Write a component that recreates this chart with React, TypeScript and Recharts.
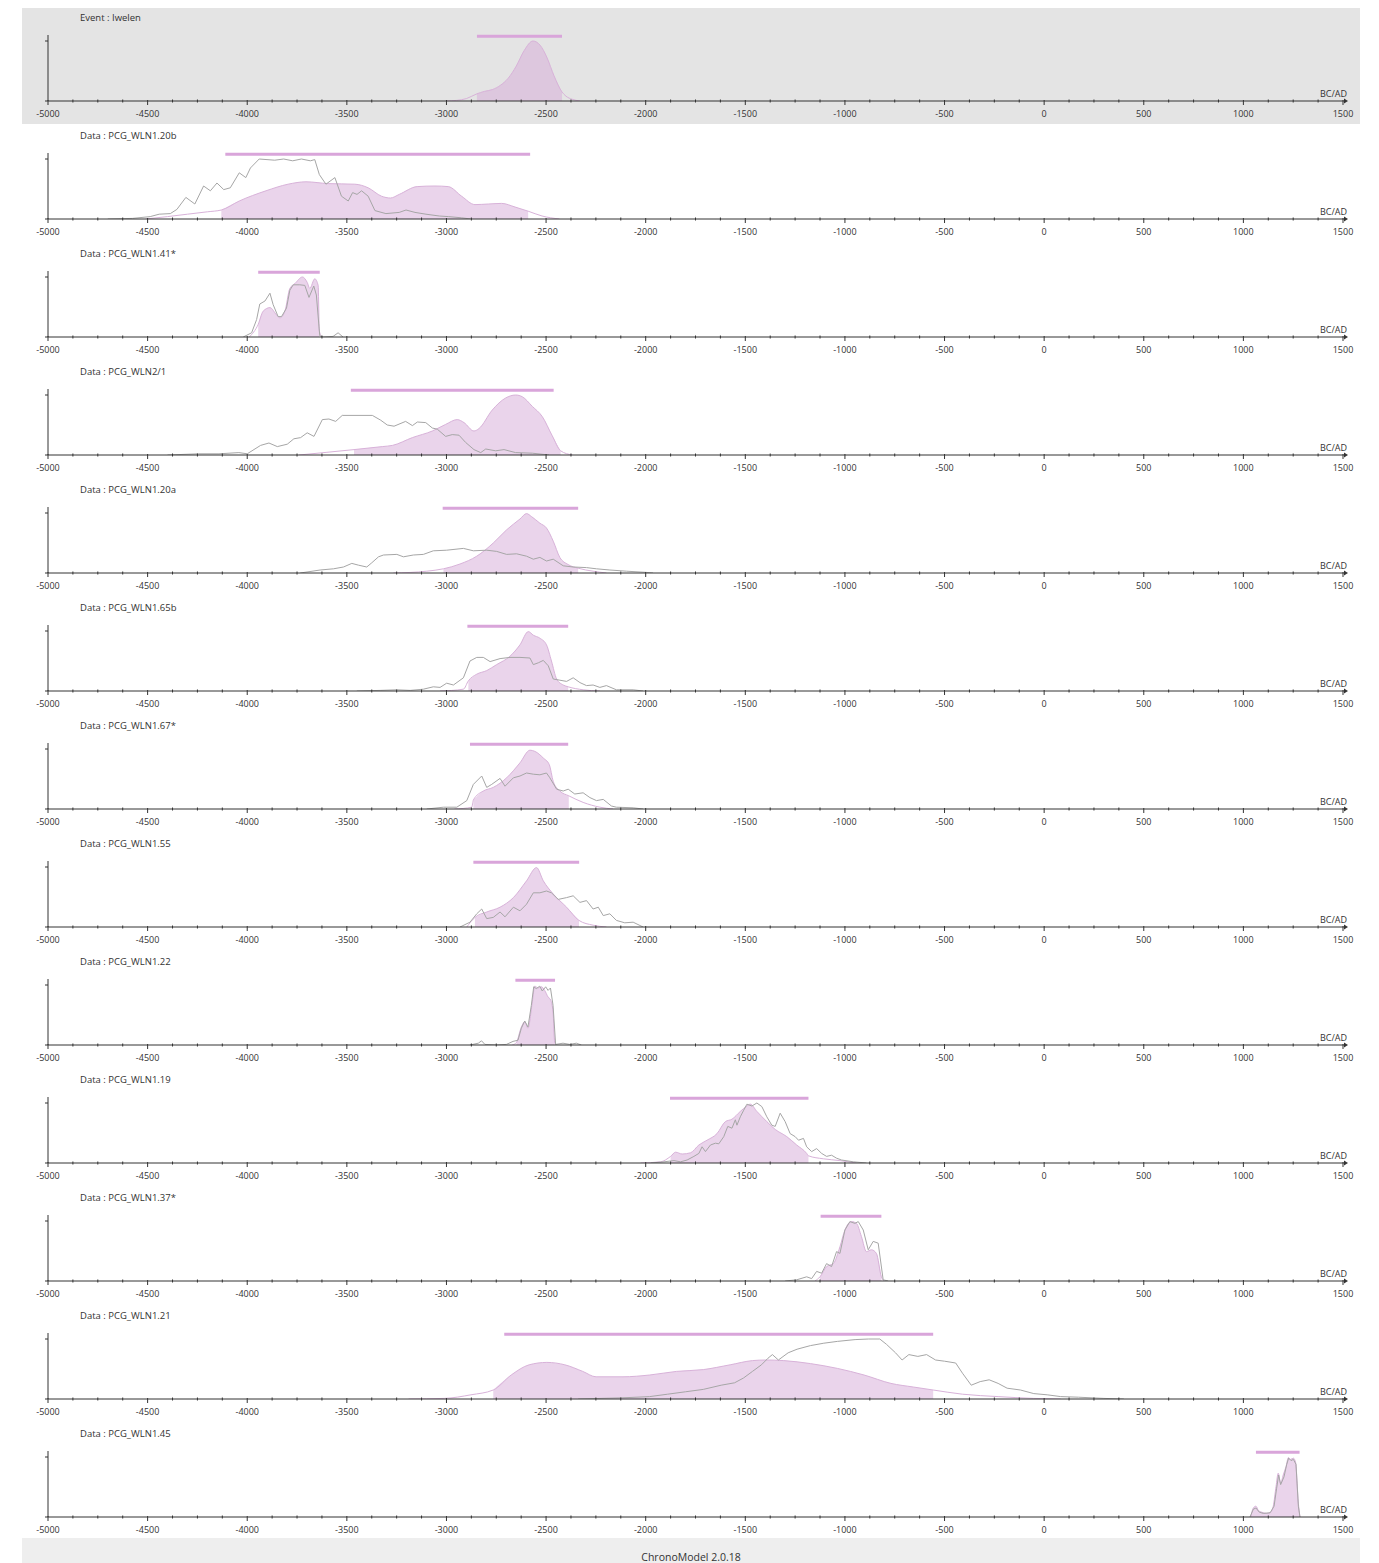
import React from "react";
import { Area, ComposedChart, Line, ReferenceLine, XAxis, YAxis } from "recharts";

// x axis (years BC/AD)
const majorTicks = [-5000, -4500, -4000, -3500, -3000, -2500, -2000, -1500, -1000, -500, 0, 500, 1000, 1500];
const MINOR_STEP = 125;

// posterior densities (pink), likelihoods (grey), HPD fill and credibility bar
const postIwelen = [[-3000, 0], [-2950, 0.01], [-2900, 0.04], [-2847, 0.12], [-2810, 0.16], [-2770, 0.19], [-2730, 0.26], [-2690, 0.38], [-2650, 0.58], [-2610, 0.84], [-2566, 1], [-2530, 0.93], [-2495, 0.72], [-2460, 0.42], [-2420, 0.15], [-2400, 0.08], [-2370, 0.03], [-2330, 0]];

const post120b = [[-4510, 0], [-4400, 0.04], [-4300, 0.08], [-4200, 0.12], [-4130, 0.15], [-4040, 0.3], [-3906, 0.47], [-3795, 0.58], [-3705, 0.62], [-3594, 0.59], [-3460, 0.58], [-3393, 0.52], [-3326, 0.38], [-3281, 0.35], [-3237, 0.41], [-3147, 0.54], [-3058, 0.55], [-2991, 0.54], [-2924, 0.38], [-2857, 0.24], [-2790, 0.25], [-2723, 0.26], [-2656, 0.2], [-2590, 0.13], [-2520, 0.05], [-2433, 0]];
const like120b = [[-4700, 0], [-4576, 0.01], [-4487, 0.04], [-4442, 0.08], [-4386, 0.09], [-4353, 0.16], [-4308, 0.36], [-4263, 0.25], [-4219, 0.55], [-4185, 0.47], [-4152, 0.6], [-4118, 0.49], [-4085, 0.52], [-4040, 0.77], [-4007, 0.69], [-3984, 0.85], [-3940, 1], [-3862, 0.98], [-3817, 1], [-3772, 0.97], [-3728, 1], [-3683, 0.97], [-3661, 0.99], [-3638, 0.74], [-3605, 0.58], [-3560, 0.69], [-3527, 0.38], [-3493, 0.3], [-3471, 0.44], [-3449, 0.41], [-3426, 0.47], [-3393, 0.38], [-3359, 0.14], [-3304, 0.09], [-3237, 0.11], [-3203, 0.15], [-3158, 0.11], [-3103, 0.08], [-3036, 0.05], [-2991, 0.04], [-2924, 0.02], [-2879, 0]];

const post141 = [[-3990, 0], [-3945, 0.21], [-3920, 0.43], [-3886, 0.49], [-3853, 0.37], [-3836, 0.32], [-3811, 0.43], [-3786, 0.81], [-3761, 0.89], [-3723, 1], [-3699, 0.91], [-3686, 0.81], [-3661, 0.97], [-3644, 0.86], [-3638, 0.1], [-3625, 0]];
const like141 = [[-4020, 0], [-3978, 0.07], [-3953, 0.29], [-3937, 0.55], [-3911, 0.6], [-3886, 0.73], [-3870, 0.54], [-3845, 0.34], [-3828, 0.34], [-3803, 0.48], [-3786, 0.78], [-3769, 0.87], [-3736, 0.87], [-3711, 0.86], [-3690, 0.66], [-3666, 0.85], [-3653, 0.7], [-3636, 0.02], [-3619, 0], [-3569, 0.01], [-3544, 0.07], [-3519, 0]];

const post21 = [[-3740, 0], [-3600, 0.045], [-3464, 0.09], [-3322, 0.14], [-3271, 0.16], [-3171, 0.29], [-3071, 0.4], [-3004, 0.51], [-2946, 0.59], [-2912, 0.54], [-2862, 0.4], [-2837, 0.44], [-2770, 0.75], [-2703, 0.95], [-2653, 1], [-2619, 0.97], [-2569, 0.81], [-2519, 0.64], [-2469, 0.32], [-2427, 0.07], [-2368, 0]];
const like21 = [[-4400, 0], [-4243, 0.02], [-4142, 0.02], [-4042, 0.04], [-4000, 0.02], [-3933, 0.16], [-3891, 0.2], [-3849, 0.14], [-3799, 0.18], [-3766, 0.27], [-3732, 0.29], [-3699, 0.37], [-3665, 0.31], [-3623, 0.59], [-3590, 0.6], [-3556, 0.56], [-3523, 0.66], [-3439, 0.66], [-3372, 0.66], [-3330, 0.58], [-3297, 0.5], [-3263, 0.48], [-3205, 0.56], [-3171, 0.49], [-3146, 0.55], [-3104, 0.54], [-3071, 0.45], [-3046, 0.43], [-3004, 0.31], [-2971, 0.34], [-2937, 0.33], [-2904, 0.21], [-2862, 0.09], [-2828, 0.04], [-2803, 0.1], [-2753, 0.07], [-2711, 0.09], [-2653, 0.04], [-2569, 0.03], [-2485, 0]];

const post120a = [[-3266, 0], [-3099, 0.03], [-3015, 0.07], [-2932, 0.15], [-2848, 0.28], [-2765, 0.5], [-2698, 0.72], [-2631, 0.9], [-2598, 0.99], [-2573, 0.94], [-2531, 0.83], [-2498, 0.75], [-2464, 0.53], [-2431, 0.26], [-2389, 0.14], [-2339, 0.08], [-2264, 0.03], [-2197, 0]];
const like120a = [[-3734, 0], [-3634, 0.05], [-3567, 0.07], [-3517, 0.1], [-3475, 0.16], [-3441, 0.13], [-3400, 0.1], [-3375, 0.17], [-3341, 0.27], [-3316, 0.3], [-3249, 0.31], [-3216, 0.27], [-3166, 0.3], [-3116, 0.31], [-3066, 0.37], [-2999, 0.38], [-2915, 0.41], [-2865, 0.37], [-2798, 0.38], [-2748, 0.36], [-2698, 0.31], [-2648, 0.32], [-2598, 0.28], [-2564, 0.23], [-2531, 0.26], [-2498, 0.2], [-2464, 0.23], [-2414, 0.12], [-2364, 0.1], [-2297, 0.09], [-2247, 0.07], [-2180, 0.05], [-2096, 0.03], [-1996, 0.01], [-1963, 0]];

const post165b = [[-3032, 0], [-2915, 0.03], [-2890, 0.17], [-2848, 0.28], [-2798, 0.34], [-2748, 0.44], [-2681, 0.58], [-2631, 0.77], [-2589, 0.99], [-2564, 0.93], [-2531, 0.88], [-2498, 0.77], [-2473, 0.5], [-2447, 0.2], [-2414, 0.1], [-2389, 0.07], [-2314, 0.02], [-2230, 0]];
const like165b = [[-3450, 0], [-3333, 0.01], [-3249, 0.02], [-3182, 0.01], [-3116, 0.03], [-3066, 0.07], [-3032, 0.06], [-2999, 0.13], [-2965, 0.1], [-2915, 0.22], [-2882, 0.5], [-2848, 0.56], [-2815, 0.56], [-2781, 0.49], [-2731, 0.54], [-2681, 0.56], [-2631, 0.56], [-2581, 0.55], [-2564, 0.44], [-2539, 0.47], [-2514, 0.51], [-2489, 0.42], [-2464, 0.2], [-2431, 0.18], [-2397, 0.16], [-2364, 0.22], [-2330, 0.14], [-2297, 0.09], [-2264, 0.1], [-2230, 0.06], [-2197, 0.09], [-2147, 0.02], [-2063, 0.02], [-2013, 0]];

const post167 = [[-2960, 0], [-2873, 0.03], [-2865, 0.15], [-2815, 0.3], [-2765, 0.36], [-2698, 0.52], [-2631, 0.77], [-2581, 0.98], [-2556, 0.96], [-2514, 0.85], [-2484, 0.74], [-2464, 0.46], [-2431, 0.3], [-2386, 0.22], [-2314, 0.11], [-2230, 0.03], [-2164, 0]];
const like167 = [[-3099, 0], [-3015, 0.03], [-2948, 0.03], [-2898, 0.14], [-2865, 0.41], [-2823, 0.55], [-2798, 0.36], [-2773, 0.41], [-2731, 0.51], [-2706, 0.38], [-2664, 0.52], [-2631, 0.55], [-2598, 0.6], [-2564, 0.58], [-2531, 0.57], [-2498, 0.6], [-2481, 0.52], [-2447, 0.33], [-2414, 0.3], [-2389, 0.33], [-2356, 0.25], [-2314, 0.27], [-2280, 0.19], [-2247, 0.14], [-2213, 0.16], [-2172, 0.05], [-2147, 0.03], [-2063, 0.02], [-2013, 0]];

const post155 = [[-2898, 0], [-2857, 0.16], [-2798, 0.25], [-2731, 0.33], [-2664, 0.49], [-2598, 0.77], [-2548, 0.99], [-2514, 0.77], [-2464, 0.55], [-2397, 0.33], [-2335, 0.11], [-2264, 0.03], [-2197, 0]];
const like155 = [[-2932, 0], [-2882, 0.08], [-2848, 0.22], [-2823, 0.3], [-2798, 0.14], [-2765, 0.16], [-2731, 0.25], [-2706, 0.17], [-2664, 0.33], [-2631, 0.27], [-2598, 0.38], [-2564, 0.57], [-2531, 0.57], [-2498, 0.6], [-2473, 0.57], [-2439, 0.46], [-2397, 0.49], [-2364, 0.52], [-2330, 0.41], [-2297, 0.44], [-2264, 0.3], [-2238, 0.33], [-2213, 0.19], [-2180, 0.22], [-2147, 0.11], [-2105, 0.07], [-2063, 0.08], [-2013, 0]];

const post122 = [[-2670, 0], [-2649, 0.04], [-2624, 0.3], [-2607, 0.39], [-2591, 0.28], [-2569, 0.72], [-2557, 0.98], [-2540, 0.95], [-2524, 0.97], [-2507, 0.91], [-2490, 0.8], [-2477, 0.75], [-2465, 0.55], [-2457, 0.05], [-2450, 0]];
const like122 = [[-2882, 0], [-2840, 0.03], [-2824, 0.07], [-2807, 0.01], [-2749, 0], [-2699, 0.01], [-2666, 0.06], [-2641, 0.08], [-2624, 0.28], [-2607, 0.4], [-2591, 0.3], [-2574, 0.66], [-2562, 0.97], [-2549, 0.94], [-2532, 0.98], [-2519, 0.9], [-2502, 0.97], [-2490, 0.91], [-2478, 0.95], [-2465, 0.66], [-2452, 0.01], [-2415, 0.03], [-2381, 0.01], [-2348, 0.03], [-2323, 0]];

const post119 = [[-2025, 0], [-1925, 0.02], [-1875, 0.11], [-1850, 0.18], [-1817, 0.15], [-1775, 0.17], [-1733, 0.3], [-1692, 0.38], [-1642, 0.49], [-1600, 0.69], [-1567, 0.73], [-1525, 0.86], [-1492, 0.95], [-1475, 0.98], [-1442, 0.86], [-1392, 0.69], [-1350, 0.56], [-1292, 0.44], [-1242, 0.3], [-1192, 0.16], [-1183, 0.12], [-1108, 0.07], [-1025, 0.04], [-942, 0]];
const like119 = [[-1975, 0], [-1908, 0.02], [-1858, 0.04], [-1825, 0.02], [-1792, 0.05], [-1758, 0.11], [-1733, 0.16], [-1717, 0.27], [-1700, 0.19], [-1675, 0.3], [-1650, 0.33], [-1633, 0.32], [-1608, 0.44], [-1588, 0.61], [-1567, 0.58], [-1550, 0.72], [-1542, 0.63], [-1525, 0.77], [-1508, 0.88], [-1492, 0.98], [-1467, 0.95], [-1442, 1], [-1417, 0.94], [-1392, 0.77], [-1367, 0.63], [-1350, 0.61], [-1325, 0.83], [-1300, 0.69], [-1275, 0.49], [-1250, 0.44], [-1233, 0.38], [-1208, 0.41], [-1192, 0.27], [-1167, 0.19], [-1142, 0.24], [-1117, 0.16], [-1092, 0.11], [-1067, 0.13], [-1042, 0.08], [-1017, 0.05], [-958, 0.02], [-892, 0]];

const post137 = [[-1150, 0], [-1125, 0.07], [-1092, 0.24], [-1058, 0.29], [-1025, 0.57], [-1000, 0.85], [-967, 0.99], [-942, 0.96], [-917, 0.74], [-892, 0.49], [-867, 0.52], [-842, 0.46], [-817, 0.07], [-805, 0]];
const like137 = [[-1300, 0], [-1242, 0.02], [-1192, 0.07], [-1167, 0.04], [-1142, 0.16], [-1117, 0.13], [-1092, 0.29], [-1067, 0.24], [-1042, 0.49], [-1025, 0.46], [-1000, 0.85], [-975, 0.99], [-950, 0.96], [-933, 0.99], [-908, 0.85], [-883, 0.52], [-858, 0.66], [-833, 0.63], [-808, 0.02], [-783, 0]];

const post121 = [[-3190, 0], [-3011, 0.01], [-2877, 0.07], [-2765, 0.15], [-2675, 0.4], [-2585, 0.57], [-2496, 0.61], [-2406, 0.57], [-2316, 0.46], [-2249, 0.37], [-2114, 0.37], [-1980, 0.4], [-1845, 0.46], [-1711, 0.49], [-1576, 0.57], [-1464, 0.64], [-1397, 0.65], [-1307, 0.64], [-1173, 0.59], [-1038, 0.51], [-904, 0.4], [-769, 0.26], [-657, 0.2], [-557, 0.15], [-410, 0.08], [-231, 0.04], [-52, 0.01], [83, 0]];
const like121 = [[-2339, 0], [-2114, 0.02], [-1980, 0.04], [-1890, 0.08], [-1801, 0.12], [-1711, 0.16], [-1621, 0.23], [-1554, 0.27], [-1509, 0.35], [-1464, 0.46], [-1419, 0.57], [-1386, 0.68], [-1364, 0.74], [-1334, 0.65], [-1285, 0.77], [-1240, 0.83], [-1173, 0.89], [-1106, 0.93], [-1038, 0.96], [-949, 0.99], [-881, 1], [-825, 1], [-791, 0.91], [-746, 0.77], [-713, 0.65], [-679, 0.74], [-634, 0.71], [-590, 0.74], [-545, 0.65], [-500, 0.63], [-444, 0.6], [-410, 0.43], [-366, 0.23], [-321, 0.29], [-276, 0.32], [-231, 0.26], [-186, 0.18], [-119, 0.15], [-52, 0.09], [15, 0.07], [83, 0.04], [172, 0.03], [300, 0.01], [400, 0]];

const post145 = [[1037, 0], [1050, 0.15], [1063, 0.18], [1075, 0.11], [1092, 0.08], [1117, 0.06], [1137, 0.08], [1150, 0.18], [1164, 0.51], [1175, 0.73], [1187, 0.56], [1200, 0.7], [1214, 0.84], [1226, 0.99], [1237, 0.96], [1251, 0.98], [1262, 0.91], [1276, 0.23], [1284, 0]];
const like145 = [[1033, 0], [1050, 0.13], [1063, 0.15], [1080, 0.08], [1100, 0.06], [1134, 0.07], [1154, 0.18], [1167, 0.48], [1177, 0.7], [1187, 0.54], [1204, 0.67], [1217, 0.87], [1227, 0.98], [1239, 0.94], [1251, 0.96], [1264, 0.88], [1276, 0.18], [1284, 0]];

const titles = ["Event : Iwelen", "Data : PCG_WLN1.20b", "Data : PCG_WLN1.41*", "Data : PCG_WLN2/1", "Data : PCG_WLN1.20a", "Data : PCG_WLN1.65b", "Data : PCG_WLN1.67*", "Data : PCG_WLN1.55", "Data : PCG_WLN1.22", "Data : PCG_WLN1.19", "Data : PCG_WLN1.37*", "Data : PCG_WLN1.21", "Data : PCG_WLN1.45"];
const posts = [postIwelen, post120b, post141, post21, post120a, post165b, post167, post155, post122, post119, post137, post121, post145];
const likes = [null, like120b, like141, like21, like120a, like165b, like167, like155, like122, like119, like137, like121, like145];
const hpdRanges = [[-2847, -2420], [-4130, -2590], [-3945, -3638], [-3464, -2427], [-3015, -2339], [-2890, -2389], [-2865, -2386], [-2857, -2335], [-2649, -2457], [-1875, -1183], [-1125, -817], [-2765, -557], [1037, 1284]];
const credRanges = [[-2847, -2420], [-4110, -2580], [-3945, -3636], [-3480, -2462], [-3019, -2339], [-2895, -2389], [-2882, -2389], [-2865, -2334], [-2654, -2455], [-1878, -1183], [-1122, -817], [-2710, -557], [1063, 1282]];

const FONT = "'Open Sans', 'DejaVu Sans', sans-serif";
const PANEL_H = 118;
const BAR_LEVEL = 1.08;
const PINK_FILL = "#d5aad7";
const PINK_LINE = "#d8b2d9";
const PINK_BAR = "#d9a5da";
const GREY_LINE = "#a6a6a6";
const AXIS = "#333333";

const allTicks: number[] = [];
majorTicks.forEach((t, i) => {
  allTicks.push(t);
  const next = majorTicks[i + 1];
  if (next !== undefined) {
    for (let m = t + MINOR_STEP; m < next; m += MINOR_STEP) allTicks.push(m);
  }
});

function buildRows(post: number[][], like: number[][] | null, hpd: number[]) {
  const postMap = new Map(post.map((d) => [d[0], d[1]]));
  const likeMap = new Map((like || []).map((d) => [d[0], d[1]]));
  const years = Array.from(new Set([...postMap.keys(), ...likeMap.keys()])).sort((a, b) => a - b);
  return years.map((y) => ({
    year: y,
    post: postMap.has(y) ? postMap.get(y) : null,
    like: likeMap.has(y) ? likeMap.get(y) : null,
    fill: postMap.has(y) && y >= hpd[0] && y <= hpd[1] ? postMap.get(y) : null,
  }));
}

function AxisTick(props: any) {
  const { x, y, payload } = props;
  const v = payload.value;
  const major = majorTicks.includes(v);
  const last = v === majorTicks[majorTicks.length - 1];
  return (
    <g>
      {major ? (
        <line x1={x} x2={x} y1={y - 1} y2={y + 4} stroke={AXIS} strokeWidth={1} />
      ) : (
        <line x1={x} x2={x} y1={y - 1.5} y2={y + 1.5} stroke={AXIS} strokeWidth={1} />
      )}
      {major && (
        <text x={x} y={y + 16} textAnchor="middle" fontSize={9} fontFamily={FONT} fill="#333">
          {v}
        </text>
      )}
      {last && (
        <g>
          <line x1={x} x2={x + 3} y1={y} y2={y} stroke={AXIS} strokeWidth={1} />
          <polygon points={`${x + 5},${y} ${x + 1},${y - 2.5} ${x + 1},${y + 2.5}`} fill={AXIS} />
          <text x={x + 4} y={y - 4} textAnchor="end" fontSize={9} fontFamily={FONT} fill="#333">
            BC/AD
          </text>
        </g>
      )}
    </g>
  );
}

function Panel({ index }: { index: number }) {
  const rows = buildRows(posts[index], likes[index], hpdRanges[index]);
  const ci = credRanges[index];
  return (
    <div style={{ position: "absolute", left: 0, top: 8 + index * PANEL_H, width: 1379, height: PANEL_H }}>
      <ComposedChart width={1379} height={PANEL_H} data={rows} margin={{ top: 27, right: 36, bottom: 0, left: 0 }}>
        <XAxis
          dataKey="year"
          type="number"
          domain={[-5000, 1500]}
          ticks={allTicks}
          interval={0}
          allowDataOverflow
          height={25}
          tickSize={0}
          tickMargin={0}
          tickLine={false}
          axisLine={{ stroke: AXIS }}
          tick={<AxisTick />}
        />
        <YAxis
          type="number"
          domain={[0, 1.1]}
          ticks={[0, 1]}
          width={48}
          tickSize={3}
          axisLine={{ stroke: AXIS }}
          tickLine={{ stroke: AXIS }}
          tick={() => <g />}
          allowDataOverflow
        />
        <Area
          dataKey="fill"
          type="monotone"
          stroke="none"
          fill={PINK_FILL}
          fillOpacity={0.5}
          connectNulls
          dot={false}
          activeDot={false}
          isAnimationActive={false}
        />
        <Line
          dataKey="post"
          type="monotone"
          stroke={PINK_LINE}
          strokeWidth={1}
          connectNulls
          dot={false}
          activeDot={false}
          isAnimationActive={false}
        />
        {likes[index] && (
          <Line
            dataKey="like"
            type="linear"
            stroke={GREY_LINE}
            strokeWidth={1}
            connectNulls
            dot={false}
            activeDot={false}
            isAnimationActive={false}
          />
        )}
        <ReferenceLine
          segment={[
            { x: ci[0], y: BAR_LEVEL },
            { x: ci[1], y: BAR_LEVEL },
          ]}
          stroke={PINK_BAR}
          strokeWidth={3}
          ifOverflow="visible"
        />
      </ComposedChart>
      <div
        style={{
          position: "absolute",
          left: 80,
          top: 3,
          fontSize: 9.5,
          lineHeight: "13px",
          fontFamily: FONT,
          color: "#333",
          whiteSpace: "nowrap",
        }}
      >
        {titles[index]}
      </div>
    </div>
  );
}

export default function App() {
  return (
    <div style={{ position: "absolute", left: 0, top: 0, width: 1379, height: 1563, background: "#fff", overflow: "hidden" }}>
      <div style={{ position: "absolute", left: 22, top: 8, width: 1338, height: 116, background: "#e4e4e4" }} />
      {titles.map((_, i) => (
        <Panel key={i} index={i} />
      ))}
      <div
        style={{
          position: "absolute",
          left: 22,
          top: 1538,
          width: 1338,
          height: 25,
          background: "#eeeeee",
          fontFamily: FONT,
          fontSize: 10.5,
          color: "#333",
          textAlign: "center",
          lineHeight: "38px",
        }}
      >
        ChronoModel 2.0.18
      </div>
    </div>
  );
}
